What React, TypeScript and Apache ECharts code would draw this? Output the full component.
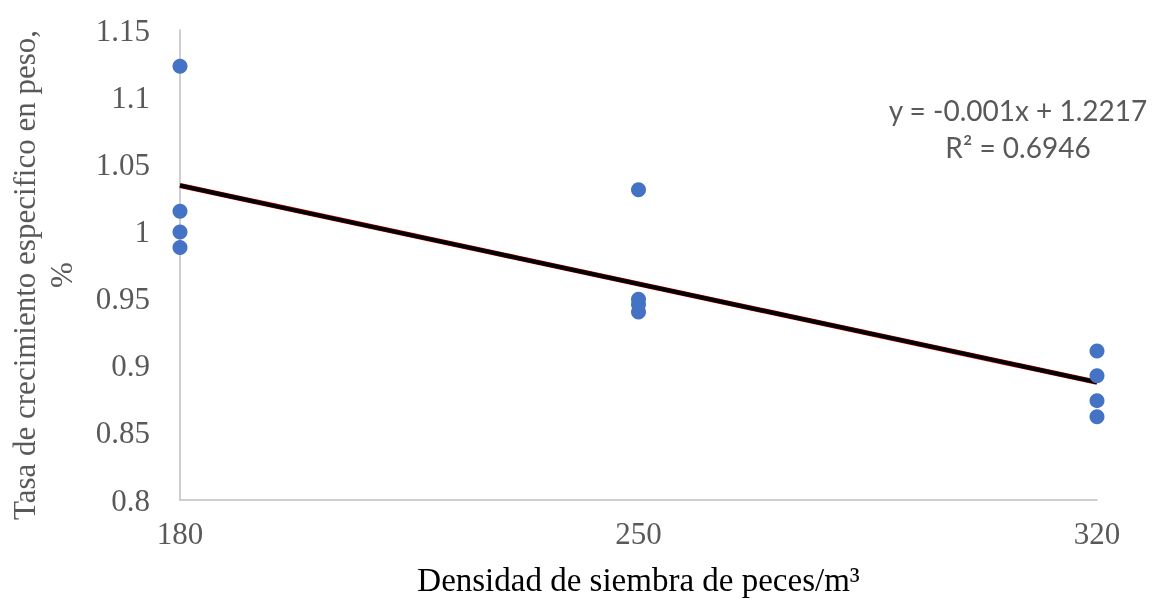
import React, { useEffect, useRef } from "react";
import * as echarts from "echarts";

const densities = [180, 180, 180, 180, 250, 250, 250, 250, 320, 320, 320, 320];
const growthRates = [1.123, 1.015, 0.9995, 0.988, 1.031, 0.9495, 0.9455, 0.940, 0.911, 0.8925, 0.874, 0.862];
const xTicks = [180, 250, 320];
const equationText = "y = -0.001x + 1.2217\nR² = 0.6946";
const yTitle = "Tasa de crecimiento especifico en peso,\n%";
const xTitle = "Densidad de siembra de peces/m³";

function linearFit(xs: number[], ys: number[]) {
  const n = xs.length;
  const mx = xs.reduce((a, b) => a + b, 0) / n;
  const my = ys.reduce((a, b) => a + b, 0) / n;
  let sxy = 0, sxx = 0;
  for (let i = 0; i < n; i++) {
    sxy += (xs[i] - mx) * (ys[i] - my);
    sxx += (xs[i] - mx) * (xs[i] - mx);
  }
  const slope = sxy / sxx;
  return { slope, intercept: my - slope * mx };
}

export default function App() {
  const ref = useRef<HTMLDivElement>(null);
  useEffect(() => {
    if (!ref.current) return;
    const chart = echarts.init(ref.current, null, { renderer: "svg" });
    const { slope, intercept } = linearFit(densities, growthRates);
    const x0 = xTicks[0];
    const x1 = xTicks[xTicks.length - 1];
    const trend = [
      [x0, slope * x0 + intercept],
      [x1, slope * x1 + intercept],
    ];
    const serif = "'Liberation Serif', 'Times New Roman', serif";
    chart.setOption({
      animation: false,
      grid: { left: 180, right: 62, top: 30, bottom: 98, containLabel: false },
      xAxis: {
        type: "value",
        min: 180,
        max: 320,
        interval: 10,
        axisLine: { show: true, lineStyle: { color: "#BFBFBF", width: 1.5 } },
        axisTick: { show: false },
        splitLine: { show: false },
        axisLabel: {
          customValues: xTicks,
          color: "#595959",
          fontFamily: serif,
          fontSize: 31,
          margin: 18,
        },
        name: xTitle,
        nameLocation: "middle",
        nameGap: 63,
        nameTextStyle: { color: "#000000", fontFamily: serif, fontSize: 33 },
      },
      yAxis: {
        type: "value",
        min: 0.8,
        max: 1.15,
        interval: 0.05,
        axisLine: { show: true, lineStyle: { color: "#BFBFBF", width: 1.5 } },
        axisTick: { show: false },
        splitLine: { show: false },
        axisLabel: {
          color: "#595959",
          fontFamily: serif,
          fontSize: 31,
          margin: 30,
          formatter: (v: number) => String(parseFloat(v.toFixed(2))),
        },
      },
      graphic: [
        {
          type: "text",
          x: 1018,
          y: 128,
          style: {
            text: equationText,
            fontFamily: "Lato, 'Open Sans', sans-serif",
            fontSize: 28,
            lineHeight: 37,
            fill: "#595959",
            align: "center",
            verticalAlign: "middle",
          },
        },
        {
          type: "text",
          x: 43,
          y: 275,
          rotation: Math.PI / 2,
          style: {
            text: yTitle,
            fontFamily: serif,
            fontSize: 31,
            lineHeight: 37,
            fill: "#595959",
            align: "center",
            verticalAlign: "middle",
          },
        },
      ],
      series: [
        {
          type: "line",
          data: trend,
          symbol: "none",
          lineStyle: { color: "#C00000", width: 5 },
          z: 2,
          silent: true,
        },
        {
          type: "line",
          data: trend,
          symbol: "none",
          lineStyle: { color: "#000000", width: 4 },
          z: 3,
          silent: true,
        },
        {
          type: "scatter",
          data: densities.map((d, i) => [d, growthRates[i]]),
          symbol: "circle",
          symbolSize: 15,
          itemStyle: { color: "#4472C4", opacity: 1 },
          z: 4,
        },
      ],
    });
    return () => chart.dispose();
  }, []);
  return (
    <div
      ref={ref}
      style={{ position: "fixed", left: 0, top: 0, width: 1159, height: 601 }}
    />
  );
}
